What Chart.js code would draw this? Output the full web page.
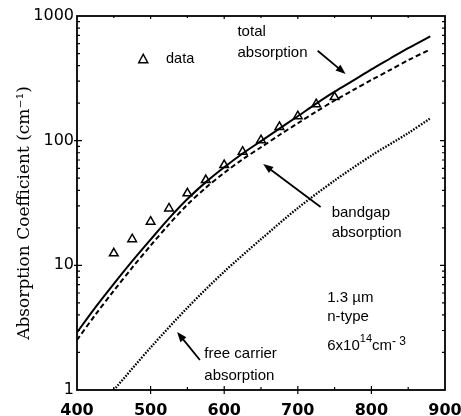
<!DOCTYPE html>
<html>
<head>
<meta charset="utf-8">
<script src="https://cdn.jsdelivr.net/npm/chart.js@4.4.1/dist/chart.umd.min.js"></script>
<style>
  html, body { margin: 0; padding: 0; background: #fff; }
  #wrap { width: 461px; height: 416px; }
</style>
</head>
<body>
<div id="wrap"><canvas id="absChart" width="461" height="416"></canvas></div>
<script>
// wavelength grid (nm) of the model curves
const wavelengths = [400, 425, 450, 475, 500, 525, 550, 575, 600, 625, 650, 675, 700, 725, 750, 775, 800, 825, 850, 880];
// total absorption (solid), cm^-1
const totalAbs = [2.9, 4.6, 7.1, 10.8, 16.1, 23.8, 34.0, 46.5, 61.2, 78.9, 99.3, 125, 157, 198, 247, 303, 373, 454, 552, 687];
// bandgap absorption (dashed), cm^-1
const bandgapAbs = [2.52, 4.02, 6.26, 9.58, 14.4, 21.3, 30.7, 41.9, 55.2, 70.8, 88.5, 111, 138, 171, 210, 254, 307, 368, 442, 540];
// free carrier absorption (dotted)
const fcWavelengths = [450, 500, 550, 600, 650, 700, 750, 800, 850, 880];
const freeCarrierAbs = [1.0, 2.19, 4.57, 8.9, 16.2, 28.8, 47.9, 75.9, 115, 151];
// measured points (triangles)
const dataWavelengths = [450, 475, 500, 525, 550, 575, 600, 625, 650, 675, 700, 725, 750];
const dataAbs = [12.5, 16.2, 22.4, 28.6, 37.8, 48.3, 63.7, 81.5, 101, 129, 157, 196, 224];

// axis ticks
const xTicks = [400, 500, 600, 700, 800, 900];
const xMinorTicks = [450, 550, 650, 750, 850];
const yTicks = [1, 10, 100, 1000];
const yMinorTicks = [];
[1, 10, 100].forEach(d => { for (let m = 2; m <= 9; m++) yMinorTicks.push(d * m); });

const toXY = (xs, ys) => xs.map((x, i) => ({ x, y: ys[i] }));

const SANS = '"Liberation Sans", Arial, sans-serif';

function drawArrow(ctx, x1, y1, x2, y2) {
  const ang = Math.atan2(y2 - y1, x2 - x1);
  const len = 10, half = 3.8;
  ctx.save();
  ctx.lineWidth = 1.8;
  ctx.beginPath();
  ctx.moveTo(x1, y1);
  ctx.lineTo(x2 - Math.cos(ang) * len * 0.7, y2 - Math.sin(ang) * len * 0.7);
  ctx.stroke();
  ctx.beginPath();
  ctx.moveTo(x2, y2);
  ctx.lineTo(x2 - Math.cos(ang) * len + Math.sin(ang) * half, y2 - Math.sin(ang) * len - Math.cos(ang) * half);
  ctx.lineTo(x2 - Math.cos(ang) * len - Math.sin(ang) * half, y2 - Math.sin(ang) * len + Math.cos(ang) * half);
  ctx.closePath();
  ctx.fill();
  ctx.restore();
}

const paperDecor = {
  id: 'paperDecor',
  afterDraw(chart) {
    const { ctx, chartArea: a, scales: { x, y } } = chart;
    const px = v => x.getPixelForValue(v);
    const py = v => y.getPixelForValue(v);
    ctx.save();
    ctx.strokeStyle = '#000';
    ctx.fillStyle = '#000';

    // frame
    ctx.lineWidth = 1.8;
    ctx.strokeRect(a.left, a.top, a.right - a.left, a.bottom - a.top);

    // ticks
    ctx.lineWidth = 1.2;
    ctx.beginPath();
    yMinorTicks.forEach(v => {
      const yy = py(v);
      ctx.moveTo(a.left, yy); ctx.lineTo(a.left + 3, yy);
      ctx.moveTo(a.right, yy); ctx.lineTo(a.right - 3, yy);
    });
    [10, 100].forEach(v => {
      const yy = py(v);
      ctx.moveTo(a.left - 3, yy); ctx.lineTo(a.left + 5, yy);
      ctx.moveTo(a.right, yy); ctx.lineTo(a.right - 5, yy);
    });
    xMinorTicks.forEach(v => {
      const xx = px(v);
      ctx.moveTo(xx, a.bottom); ctx.lineTo(xx, a.bottom - 3);
      ctx.moveTo(xx, a.top); ctx.lineTo(xx, a.top + 2);
    });
    xTicks.slice(1, -1).forEach(v => {
      const xx = px(v);
      ctx.moveTo(xx, a.bottom + 4); ctx.lineTo(xx, a.bottom - 4);
      ctx.moveTo(xx, a.top); ctx.lineTo(xx, a.top + 3);
    });
    ctx.stroke();

    // y axis title
    ctx.save();
    ctx.translate(25, 213);
    ctx.rotate(-Math.PI / 2);
    ctx.font = '17px "DejaVu Serif", serif';
    ctx.textAlign = 'center';
    ctx.textBaseline = 'middle';
    ctx.fillText('Absorption Coefficient (cm\u207B\u00B9)', 0, 0);
    ctx.restore();

    // legend
    const lx = px(490), ly = py(450);
    ctx.lineWidth = 1.5;
    ctx.beginPath();
    ctx.moveTo(lx, ly - 5);
    ctx.lineTo(lx + 4.5, ly + 3.5);
    ctx.lineTo(lx - 4.5, ly + 3.5);
    ctx.closePath();
    ctx.stroke();
    ctx.font = '14.5px ' + SANS;
    ctx.textBaseline = 'middle';
    ctx.textAlign = 'left';
    ctx.fillText('data', px(521), ly);

    // curve labels
    ctx.font = '15px ' + SANS;
    ctx.textBaseline = 'alphabetic';
    const lines = (xv, yv, arr, lh) => arr.forEach((t, i) => ctx.fillText(t, px(xv), py(yv) + i * lh));
    lines(618, 690, ['total', 'absorption'], 21);
    lines(746, 24.4, ['bandgap', 'absorption'], 20);
    lines(573, 1.81, ['free carrier', 'absorption'], 22);

    drawArrow(ctx, px(727), py(526), px(765), py(342));
    drawArrow(ctx, px(731), py(29.4), px(653), py(65));
    drawArrow(ctx, px(567), py(1.74), px(536), py(2.92));

    // sample info
    const ix = px(740), iy = py(5.08);
    ctx.fillText('1.3 \u00B5m', ix, iy);
    ctx.fillText('n-type', ix, iy + 19);
    let cx = ix;
    const by = iy + 48;
    const part = (t, f, dy) => { ctx.font = f; ctx.fillText(t, cx, by + dy); cx += ctx.measureText(t).width; };
    part('6x10', '15px ' + SANS, 0);
    part('14', '11px ' + SANS, -8);
    part('cm', '15px ' + SANS, 0);
    part('- 3', '12px ' + SANS, -5);

    ctx.restore();
  }
};

const ctx = document.getElementById('absChart').getContext('2d');
new Chart(ctx, {
  type: 'line',
  data: {
    datasets: [
      {
        label: 'total absorption',
        data: toXY(wavelengths, totalAbs),
        borderColor: '#000',
        borderWidth: 2,
        pointRadius: 0,
        tension: 0.3,
        fill: false
      },
      {
        label: 'bandgap absorption',
        data: toXY(wavelengths, bandgapAbs),
        borderColor: '#000',
        borderWidth: 2,
        borderDash: [5, 3],
        pointRadius: 0,
        tension: 0.3,
        fill: false
      },
      {
        label: 'free carrier absorption',
        data: toXY(fcWavelengths, freeCarrierAbs),
        borderColor: '#000',
        borderWidth: 2.3,
        borderDash: [1.6, 1.4],
        pointRadius: 0,
        tension: 0.3,
        fill: false
      },
      {
        label: 'data',
        data: toXY(dataWavelengths, dataAbs),
        showLine: false,
        pointStyle: 'triangle',
        pointRadius: 5,
        pointBorderWidth: 1.5,
        pointBorderColor: '#000',
        pointBackgroundColor: 'rgba(0,0,0,0)'
      }
    ]
  },
  options: {
    responsive: false,
    animation: false,
    layout: { padding: { top: 16, right: 16, left: 0, bottom: 0 } },
    plugins: { legend: { display: false }, tooltip: { enabled: false } },
    scales: {
      x: {
        type: 'linear',
        min: 400,
        max: 900,
        afterBuildTicks: s => { s.ticks = xTicks.map(v => ({ value: v })); },
        afterFit: s => { s.height = 26; s.paddingLeft = 0; s.paddingRight = 0; },
        grid: { display: false, drawTicks: false },
        border: { display: false },
        ticks: {
          color: '#000',
          padding: 11,
          maxRotation: 0,
          font: { family: 'DejaVu Sans', size: 16, weight: 'bold' }
        }
      },
      y: {
        type: 'logarithmic',
        min: 1,
        max: 1000,
        afterBuildTicks: s => { s.ticks = yTicks.map(v => ({ value: v })); },
        afterFit: s => { s.width = 77; s.paddingTop = 0; s.paddingBottom = 0; },
        grid: { display: false, drawTicks: false },
        border: { display: false },
        ticks: {
          color: '#000',
          padding: 3,
          font: { family: 'DejaVu Sans', size: 16 },
          callback: v => String(v)
        }
      }
    }
  },
  plugins: [paperDecor]
});
</script>
</body>
</html>
